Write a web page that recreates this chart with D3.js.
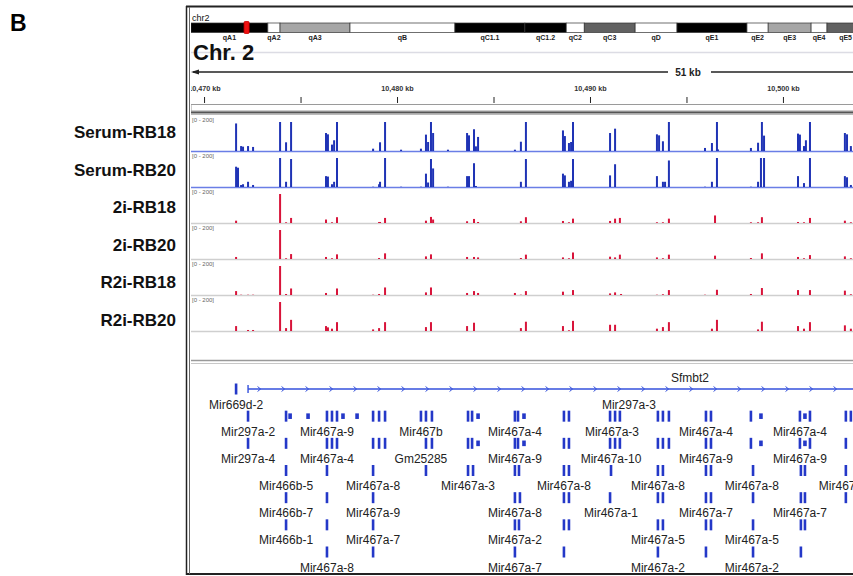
<!DOCTYPE html>
<html>
<head>
<meta charset="utf-8">
<script src="https://cdn.jsdelivr.net/npm/d3@7"></script>
<style>
body { margin: 0; background: #fff; }
svg { display: block; font-family: "Liberation Sans", Arial, sans-serif; }
</style>
</head>
<body>
<svg id="chart" width="853" height="576"></svg>
<script>
// chromosome ideogram bands (Mb)
let bandNames  = ["qA1", "qA2", "qA3", "qB", "qC1.1", "qC1.2", "qC2", "qC3", "qD", "qE1", "qE2", "qE3", "qE4", "qE5"];
let bandStarts = [0, 14.5, 16.8, 30.0, 49.8, 63.0, 70.8, 74.2, 83.8, 91.7, 104.9, 108.9, 117.0, 120.0];
let bandEnds   = [14.5, 16.8, 30.0, 49.8, 63.0, 70.8, 74.2, 83.8, 91.7, 104.9, 108.9, 117.0, 120.0, 127.0];
let bandStains = ["gpos100", "gneg", "gpos50", "gneg", "gpos100", "gpos100", "gneg", "gpos75", "gneg", "gpos100", "gneg", "gpos50", "gneg", "gpos75"];
let locusMb = 10.487;

// ruler (kb)
let viewStart = 10469.22;
let viewEnd = 10503.63;
let spanLabel = "51 kb";
let rulerTicks = [10470, 10475, 10480, 10485, 10490, 10495, 10500];

// coverage tracks: [position kb, value], data range 0 - 200
let trackNames = ["Serum-RB18", "Serum-RB20", "2i-RB18", "2i-RB20", "R2i-RB18", "R2i-RB20"];
let dataRange = [0, 200];

let serumRB18 = [
	[10471.66,190],[10471.92,34],[10472.02,30],[10472.28,34],[10472.54,28],
	[10473.94,200],[10474.25,60],[10474.51,200],
	[10476.32,124],[10476.42,115],[10476.63,44],[10476.74,74],[10476.89,200],
	[10478.76,16],[10479.12,60],[10479.38,200],
	[10480.21,9],
	[10481.24,16],[10481.50,113],[10481.61,62],[10481.76,200],[10481.87,124],
	[10482.64,9],
	[10483.63,124],[10483.73,108],[10483.99,150],[10484.09,32],[10484.20,97],
	[10486.11,9],
	[10486.42,64],[10486.68,200],
	[10488.60,142],[10488.70,103],[10488.91,55],[10489.02,62],[10489.12,200],
	[10491.04,124],[10491.30,154],
	[10493.47,115],[10493.58,108],[10493.78,67],[10494.09,200],
	[10495.96,21],[10496.32,55],[10496.58,200],[10496.63,11],
	[10498.34,21],[10498.71,57],[10498.91,200],[10499.02,106],
	[10500.78,120],[10500.88,113],[10501.09,34],[10501.19,74],[10501.40,200],
	[10503.21,124],[10503.32,115],[10503.52,34]
];
let serumRB20 = [
	[10471.66,140],[10471.76,133],[10471.92,14],[10472.02,19],[10472.28,36],[10472.54,14],
	[10473.94,200],[10474.25,36],[10474.51,193],
	[10476.32,75],[10476.42,72],[10476.63,19],[10476.74,36],[10476.89,200],
	[10478.76,2],[10479.07,19],[10479.12,36],[10479.38,200],
	[10480.21,2],
	[10481.24,2],[10481.50,92],[10481.61,31],[10481.76,193],[10481.87,128],
	[10482.64,2],
	[10483.63,75],[10483.73,75],[10483.99,164],[10484.09,7],
	[10486.42,36],[10486.68,193],
	[10488.60,92],[10488.70,80],[10488.91,36],[10489.02,43],[10489.12,193],
	[10491.04,80],[10491.30,157],
	[10493.47,75],[10493.78,36],[10493.89,36],[10494.09,183],
	[10495.96,2],[10496.32,36],[10496.58,200],
	[10498.34,2],[10498.71,36],[10498.86,200],[10499.02,200],
	[10500.78,75],[10501.09,27],[10501.40,200],
	[10503.21,75],[10503.32,67],[10503.52,14]
];
let twoiRB18 = [
	[10471.66,16],[10473.94,200],[10474.25,5],[10474.51,35],
	[10476.32,24],[10476.63,5],[10476.89,40],
	[10479.07,7],[10479.12,7],[10479.38,35],
	[10481.50,16],[10481.76,42],[10481.87,24],
	[10483.63,12],[10483.99,28],[10484.20,7],
	[10486.42,12],[10486.68,40],
	[10488.60,14],[10488.91,5],[10489.12,30],
	[10491.04,14],[10491.30,30],[10491.55,35],
	[10493.47,5],[10493.78,5],[10494.09,30],
	[10496.48,52],
	[10498.34,5],[10498.71,5],[10498.91,40],
	[10500.78,7],[10501.09,5],[10501.40,35],
	[10503.21,16],[10503.52,5]
];
let twoiRB20 = [
	[10471.66,14],[10473.94,200],[10474.25,5],[10474.51,34],
	[10476.32,14],[10476.63,5],[10476.89,32],
	[10479.07,7],[10479.38,39],
	[10481.50,18],[10481.76,32],
	[10483.63,14],[10483.99,14],[10484.20,11],
	[10486.42,7],[10486.68,30],
	[10488.60,11],[10488.91,5],[10489.12,45],
	[10491.04,16],[10491.30,11],[10491.55,30],
	[10493.47,11],[10493.78,5],[10494.09,30],
	[10496.48,23],
	[10498.34,7],[10498.91,39],
	[10500.78,14],[10501.09,5],[10501.40,27],
	[10503.21,18],[10503.52,5]
];
let r2iRB18 = [
	[10471.66,27],[10471.92,2],[10472.28,2],[10472.54,2],
	[10473.94,200],[10474.25,7],[10474.51,45],
	[10476.32,14],[10476.89,45],
	[10478.76,2],[10479.07,7],[10479.38,52],
	[10481.50,18],[10481.76,52],
	[10483.63,14],[10483.99,27],[10484.20,14],
	[10486.11,14],[10486.42,2],[10486.68,27],
	[10488.60,23],[10489.12,34],
	[10491.04,11],[10491.30,18],[10491.61,7],
	[10493.47,2],[10493.78,5],[10494.09,34],
	[10495.96,2],[10496.58,36],
	[10498.34,7],[10498.91,48],
	[10500.78,34],[10501.40,34],
	[10503.21,30],[10503.52,5]
];
let r2iRB20 = [
	[10471.66,34],[10472.28,7],[10472.54,7],
	[10473.94,200],[10474.25,20],[10474.51,77],
	[10476.32,34],[10476.42,25],[10476.63,16],[10476.89,61],
	[10478.76,11],[10479.07,20],[10479.38,61],
	[10481.50,27],[10481.76,61],
	[10483.63,34],[10483.99,57],
	[10486.42,20],[10486.68,64],
	[10488.60,34],[10488.91,5],[10489.12,70],
	[10491.04,43],[10491.30,43],
	[10493.47,16],[10493.78,27],[10494.09,61],
	[10496.32,16],[10496.58,77],
	[10498.71,11],[10498.91,64],
	[10500.78,34],[10501.09,16],[10501.40,61],
	[10503.21,39],[10503.52,16]
];
let trackValues = [serumRB18, serumRB20, twoiRB18, twoiRB20, r2iRB18, r2iRB20];

// gene annotation
let hostGene = { name: "Sfmbt2", start: 10472.28, end: 10518.08 };
// [row, position kb, small]
let mirMarks = [
	[0,10471.66,0],
	[1,10472.28,0],[1,10474.25,0],[1,10474.46,1],[1,10475.39,1],[1,10476.37,0],[1,10476.63,0],[1,10476.89,0],[1,10477.20,1],[1,10477.93,1],
	[1,10478.76,0],[1,10479.07,0],[1,10479.38,0],[1,10481.24,0],[1,10481.50,0],[1,10481.81,0],[1,10483.68,0],[1,10483.89,0],[1,10484.20,1],
	[1,10486.11,0],[1,10486.27,0],[1,10486.58,1],[1,10488.65,0],[1,10488.91,0],[1,10491.04,0],[1,10491.30,0],[1,10491.55,0],
	[1,10493.52,0],[1,10493.78,0],[1,10494.09,0],[1,10496.01,0],[1,10496.27,0],[1,10498.34,0],[1,10498.86,1],
	[1,10500.88,0],[1,10501.14,1],[1,10501.40,0],[1,10503.26,0],[1,10503.52,0],
	[2,10472.28,0],[2,10474.25,0],[2,10476.37,0],[2,10476.63,0],[2,10476.89,0],[2,10478.76,0],[2,10479.07,0],[2,10479.38,0],
	[2,10481.50,0],[2,10481.81,0],[2,10483.68,0],[2,10483.89,0],[2,10484.20,1],[2,10486.11,0],[2,10486.27,0],[2,10486.58,1],
	[2,10488.65,0],[2,10488.91,0],[2,10491.04,0],[2,10491.30,0],[2,10491.55,0],[2,10493.52,0],[2,10493.78,0],[2,10494.09,0],
	[2,10496.01,0],[2,10496.27,0],[2,10498.34,0],[2,10498.86,1],[2,10500.88,0],[2,10501.14,1],[2,10501.40,0],[2,10503.26,0],
	[3,10474.25,0],[3,10476.37,0],[3,10478.76,0],[3,10481.50,0],[3,10483.68,0],[3,10483.94,0],[3,10486.11,0],[3,10486.32,0],
	[3,10488.65,0],[3,10488.91,0],[3,10491.09,0],[3,10493.52,0],[3,10493.78,0],[3,10496.01,0],[3,10496.27,0],[3,10498.45,0],
	[3,10500.93,0],[3,10501.14,0],[3,10503.26,0],
	[4,10474.25,0],[4,10476.37,0],[4,10478.76,0],[4,10486.11,0],[4,10486.37,0],[4,10488.65,0],[4,10488.91,0],[4,10491.04,0],
	[4,10493.52,0],[4,10493.78,0],[4,10496.01,0],[4,10496.27,0],[4,10498.45,0],[4,10500.93,0],[4,10501.14,0],[4,10503.26,0],
	[5,10474.25,0],[5,10476.37,0],[5,10478.76,0],[5,10486.11,0],[5,10486.32,0],[5,10488.65,0],[5,10488.91,0],
	[5,10493.52,0],[5,10493.78,0],[5,10496.01,0],[5,10496.27,0],[5,10498.45,0],[5,10500.93,0],[5,10501.14,0],
	[6,10476.37,0],[6,10478.76,0],[6,10486.11,0],[6,10488.65,0],[6,10493.52,0],[6,10496.01,0],[6,10498.45,0],[6,10500.93,0]
];
// [row, position kb, name]
let mirLabels = [
	[0,10471.66,"Mir669d-2"],[0,10492.02,"Mir297a-3"],
	[1,10472.28,"Mir297a-2"],[1,10476.37,"Mir467a-9"],[1,10481.24,"Mir467b"],[1,10486.11,"Mir467a-4"],[1,10491.14,"Mir467a-3"],[1,10496.01,"Mir467a-4"],[1,10500.88,"Mir467a-4"],
	[2,10472.28,"Mir297a-4"],[2,10476.37,"Mir467a-4"],[2,10481.24,"Gm25285"],[2,10486.11,"Mir467a-9"],[2,10491.09,"Mir467a-10"],[2,10496.01,"Mir467a-9"],[2,10500.88,"Mir467a-9"],
	[3,10474.25,"Mir466b-5"],[3,10478.76,"Mir467a-8"],[3,10483.68,"Mir467a-3"],[3,10488.65,"Mir467a-8"],[3,10493.52,"Mir467a-8"],[3,10498.39,"Mir467a-8"],[3,10503.26,"Mir467a-8"],
	[4,10474.25,"Mir466b-7"],[4,10478.76,"Mir467a-9"],[4,10486.11,"Mir467a-8"],[4,10491.09,"Mir467a-1"],[4,10496.01,"Mir467a-7"],[4,10500.88,"Mir467a-7"],
	[5,10474.25,"Mir466b-1"],[5,10478.76,"Mir467a-7"],[5,10486.11,"Mir467a-2"],[5,10493.52,"Mir467a-5"],[5,10498.39,"Mir467a-5"],
	[6,10476.37,"Mir467a-8"],[6,10486.11,"Mir467a-7"],[6,10493.52,"Mir467a-2"],[6,10498.39,"Mir467a-2"]
];

// ---------- drawing ----------
var svg = d3.select("#chart");
var W = 853;
var left = 191;

var stainColor = { gpos100: "#000", gneg: "#fff", gpos75: "#616161", gpos50: "#a6a6a6" };
var blue = "#1f33b5", red = "#d8143a", geneBlue = "#2438c8";

svg.append("defs").append("clipPath").attr("id", "clip")
	.append("rect").attr("x", left).attr("y", 0).attr("width", W - left).attr("height", 576);

svg.append("text").attr("x", 10).attr("y", 31).attr("font-size", 23).attr("font-weight", "bold").text("B");

var panel = svg.append("g").attr("clip-path", "url(#clip)");

// ideogram
var ideo = d3.scaleLinear().domain([0, 125]).range([left, 853.5]);
panel.append("text").attr("x", 192).attr("y", 20.5).attr("font-size", 9).attr("fill", "#111").text("chr2");
var bands = bandNames.map(function(n, i) { return { name: n, s: bandStarts[i], e: bandEnds[i], stain: bandStains[i] }; });
panel.selectAll(".band").data(bands).enter().append("rect")
	.attr("x", function(d) { return ideo(d.s); })
	.attr("y", 23)
	.attr("width", function(d) { return ideo(d.e) - ideo(d.s); })
	.attr("height", 9.5)
	.attr("fill", function(d) { return stainColor[d.stain]; })
	.attr("stroke", "#333").attr("stroke-width", 0.7);
panel.selectAll(".bandLabel").data(bands).enter().append("text")
	.attr("x", function(d) { return (ideo(d.s) + ideo(d.e)) / 2; })
	.attr("y", 39.5)
	.attr("text-anchor", "middle")
	.attr("font-size", 7)
	.attr("font-weight", "bold")
	.attr("fill", "#222")
	.text(function(d) { return d.name; });
panel.append("rect").attr("x", ideo(locusMb) - 2.5).attr("y", 21.5).attr("width", 5).attr("height", 12)
	.attr("rx", 1).attr("fill", "#ee1111").attr("stroke", "#cc0000").attr("stroke-width", 0.8);

panel.append("line").attr("x1", left).attr("x2", W).attr("y1", 52.5).attr("y2", 52.5).attr("stroke", "#dcdce4").attr("stroke-width", 1.5);
panel.append("text").attr("x", 193).attr("y", 60).attr("font-size", 22).attr("font-weight", "bold").attr("fill", "#111").text("Chr. 2");

// ruler
var x = d3.scaleLinear().domain([viewStart, viewEnd]).range([189, W]);
var midX = 688;
panel.append("line").attr("x1", 193).attr("x2", midX - 20).attr("y1", 72).attr("y2", 72).attr("stroke", "#222").attr("stroke-width", 1.3);
panel.append("line").attr("x1", midX + 23).attr("x2", W).attr("y1", 72).attr("y2", 72).attr("stroke", "#222").attr("stroke-width", 1.3);
panel.append("path").attr("d", "M191,72 L199,69.5 L199,74.5 Z").attr("fill", "#222");
panel.append("text").attr("x", midX).attr("y", 75.5).attr("text-anchor", "middle").attr("font-size", 10).attr("font-weight", "bold").attr("fill", "#222").text(spanLabel);

var fmt = d3.format(",");
var ruler = panel.append("g").attr("transform", "translate(0,103)")
	.call(d3.axisTop(x).tickValues(rulerTicks).tickSize(6).tickPadding(6)
		.tickFormat(function(d) { return d % 10 === 0 ? fmt(d) + " kb" : ""; }));
ruler.select(".domain").remove();
ruler.selectAll("line").attr("stroke", "#222").attr("stroke-width", 1);
ruler.selectAll("text").attr("font-size", 7.2).attr("font-weight", "bold").attr("fill", "#333").attr("font-family", "Liberation Sans, Arial, sans-serif");
panel.append("rect").attr("x", left).attr("y", 104.5).attr("width", W).attr("height", 6.5).attr("fill", "#fff").attr("stroke", "#9a9a9a");

// separators
panel.append("rect").attr("x", left).attr("y", 111.5).attr("width", W).attr("height", 2).attr("fill", "#555");
panel.append("line").attr("x1", left).attr("x2", W).attr("y1", 114.5).attr("y2", 114.5).attr("stroke", "#bbb");

// coverage tracks
var baseY = d3.scaleLinear().domain([0, trackNames.length - 1]).range([151, 331]);
var nameY = d3.scaleLinear().domain([0, trackNames.length - 1]).range([132, 320]);

trackNames.forEach(function(name, i) {
	var col = i < 2 ? blue : red;
	var base = baseY(i);
	var y = d3.scaleLinear().domain(dataRange).range([base, base - 29]);
	var g = panel.append("g").attr("class", "track");
	g.append("text").attr("x", 192).attr("y", base - 29).attr("font-size", 6).attr("fill", "#666").text("[" + dataRange[0] + " - " + dataRange[1] + "]");
	g.append("line").attr("x1", left).attr("x2", W).attr("y1", base + 0.5).attr("y2", base + 0.5)
		.attr("stroke", i < 2 ? "#6a7ee6" : "#cfcfcf").attr("stroke-width", 1.5);
	g.selectAll(".bar").data(trackValues[i]).enter().append("rect")
		.attr("x", function(d) { return x(d[0]) - 1; })
		.attr("y", function(d) { return y(d[1]); })
		.attr("width", 2)
		.attr("height", function(d) { return base - y(d[1]); })
		.attr("fill", col);

	svg.append("text").attr("x", 176).attr("y", nameY(i)).attr("dy", "0.35em")
		.attr("text-anchor", "end").attr("font-size", 17).attr("font-weight", "bold").attr("fill", "#111")
		.text(name);
});

panel.append("line").attr("x1", left).attr("x2", W).attr("y1", 360.5).attr("y2", 360.5).attr("stroke", "#9a9a9a").attr("stroke-width", 1.5);
panel.append("line").attr("x1", left).attr("x2", W).attr("y1", 363.5).attr("y2", 363.5).attr("stroke", "#c8c8c8");

// gene track
var rowY = d3.scaleLinear().domain([0, 6]).range([389, 552]);
var gy = rowY(0);
var gx0 = x(hostGene.start), gx1 = x(hostGene.end);
panel.append("line").attr("x1", gx0).attr("x2", gx1).attr("y1", gy).attr("y2", gy).attr("stroke", "#3450dc").attr("stroke-width", 1.4);
panel.append("line").attr("x1", gx0).attr("x2", gx0).attr("y1", gy - 4).attr("y2", gy + 4).attr("stroke", "#3450dc").attr("stroke-width", 1.4);
var chev = d3.range(gx0 + 11, gx1, 24);
panel.selectAll(".chev").data(chev).enter().append("path")
	.attr("d", function(d) { return "M" + (d - 1.5) + "," + (gy - 2.5) + " L" + (d + 1.5) + "," + gy + " L" + (d - 1.5) + "," + (gy + 2.5); })
	.attr("fill", "none").attr("stroke", "#3450dc").attr("stroke-width", 1);
panel.append("text").attr("x", (gx0 + gx1) / 2).attr("y", gy - 11).attr("dy", "0.35em").attr("text-anchor", "middle")
	.attr("font-size", 12).attr("fill", "#222").text(hostGene.name);

panel.selectAll(".mir").data(mirMarks).enter().append("rect")
	.attr("x", function(d) { return x(d[1]) - (d[2] ? 1.8 : 1.3); })
	.attr("y", function(d) { return rowY(d[0]) - (d[2] ? 2.8 : 5.5); })
	.attr("width", function(d) { return d[2] ? 3.6 : 2.6; })
	.attr("height", function(d) { return d[2] ? 5.6 : 11; })
	.attr("fill", geneBlue);

panel.selectAll(".mirLabel").data(mirLabels).enter().append("text")
	.attr("x", function(d) { return x(d[1]); })
	.attr("y", function(d) { return rowY(d[0]) + 15.3; })
	.attr("dy", "0.35em")
	.attr("text-anchor", "middle")
	.attr("font-size", 12)
	.attr("fill", "#222")
	.text(function(d) { return d[2]; });

// frame
svg.append("line").attr("x1", 186).attr("x2", W).attr("y1", 6.5).attr("y2", 6.5).attr("stroke", "#222").attr("stroke-width", 2);
svg.append("line").attr("x1", 186).attr("x2", W).attr("y1", 574).attr("y2", 574).attr("stroke", "#222").attr("stroke-width", 2);
svg.append("line").attr("x1", 186.5).attr("x2", 186.5).attr("y1", 6).attr("y2", 575).attr("stroke", "#222").attr("stroke-width", 1.5);
svg.append("line").attr("x1", 189.5).attr("x2", 189.5).attr("y1", 7).attr("y2", 574).attr("stroke", "#666").attr("stroke-width", 1);
</script>
</body>
</html>
